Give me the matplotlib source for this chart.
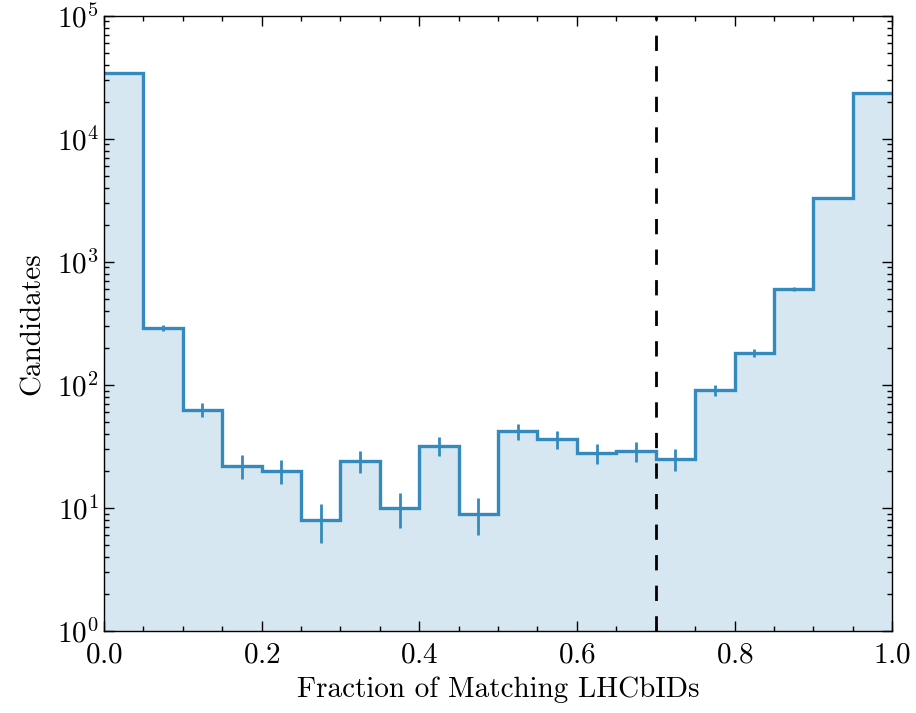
import numpy as np
import matplotlib
matplotlib.use("Agg")
import matplotlib.pyplot as plt
from matplotlib.ticker import LogLocator, MultipleLocator, NullFormatter

plt.rcParams['font.family'] = ['cmr10', 'DejaVu Serif']
plt.rcParams['mathtext.fontset'] = 'cm'
plt.rcParams['axes.formatter.use_mathtext'] = True

# histogram of matching fraction, 20 bins in [0, 1]
bin_edges = np.linspace(0.0, 1.0, 21)
counts = [34500, 290, 63, 22, 20, 8, 24, 10, 32, 9,
          42, 36, 28, 29, 25, 91, 183, 605, 3280, 23700]
cut_value = 0.7

counts = np.array(counts, dtype=float)
centres = 0.5 * (bin_edges[:-1] + bin_edges[1:])
widths = np.diff(bin_edges)
errors = np.sqrt(counts)
colour = '#348ABD'

fig, ax = plt.subplots(figsize=(9.16, 7.13), dpi=100)
fig.subplots_adjust(left=0.1135, right=0.974, top=0.978, bottom=0.115)

ax.bar(centres, counts, width=widths, color=colour, alpha=0.2, linewidth=0)
ax.stairs(counts, bin_edges, color=colour, linewidth=2.4, baseline=None)
ax.errorbar(centres, counts, yerr=errors, fmt='none', ecolor=colour, elinewidth=2.0)
ax.axvline(cut_value, color='black', linestyle=(0, (5.5, 5.5)), linewidth=2.0)

ax.set_yscale('log')
ax.set_xlim(0, 1)
ax.set_ylim(1, 1e5)
ax.xaxis.set_major_locator(MultipleLocator(0.2))
ax.xaxis.set_minor_locator(MultipleLocator(0.05))
ax.yaxis.set_major_locator(LogLocator(base=10, numticks=10))
ax.yaxis.set_minor_locator(LogLocator(base=10, subs=np.arange(2, 10), numticks=20))
ax.yaxis.set_minor_formatter(NullFormatter())

ax.tick_params(which='both', direction='in', top=True, right=True, labelsize=21)
ax.tick_params(axis='x', which='major', pad=8)
ax.tick_params(which='major', length=7.2, width=1)
ax.tick_params(which='minor', length=3.6, width=1)
for s in ax.spines.values():
    s.set_linewidth(1.0)

ax.set_xlabel('Fraction of Matching LHCbIDs', fontsize=21, labelpad=6)
ax.set_ylabel('Candidates', fontsize=21, labelpad=8)

fig.savefig('out.png', dpi=100)
